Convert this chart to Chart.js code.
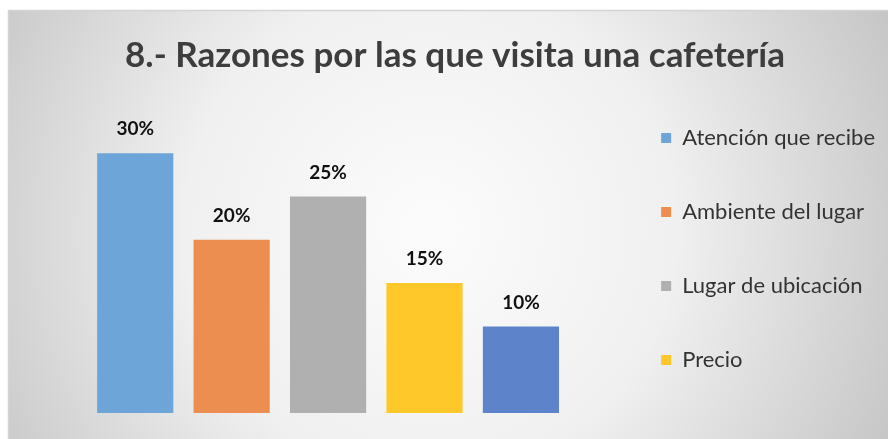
<!DOCTYPE html>
<html>
<head>
<meta charset="utf-8">
<script src="https://cdn.jsdelivr.net/npm/chart.js@4.4.0/dist/chart.umd.min.js"></script>
<style>
  html, body { margin: 0; padding: 0; background: #ffffff; }
  #wrap { width: 888px; height: 439px; }
</style>
</head>
<body>
<div id="wrap"><canvas id="grafico" width="888" height="439"></canvas></div>
<script>
// razones y porcentajes
const razones = ['Atención que recibe', 'Ambiente del lugar', 'Lugar de ubicación', 'Precio', 'Otros'];
const porcentajes = [30, 20, 25, 15, 10];
const colores = ['#6ea5d9', '#ec8e4f', '#b0b0b0', '#fec82a', '#5d83ca'];
const titulo = '8.- Razones por las que visita una cafetería';

// fondo con degradado y marco
const fondo = {
    id: 'fondo',
    beforeDraw(chart) {
        const ctx = chart.ctx;
        const w = chart.width, h = chart.height;
        ctx.save();
        ctx.fillStyle = '#ffffff';
        ctx.fillRect(0, 0, w, h);
        const g = ctx.createRadialGradient(430, 230, 20, 430, 230, 520);
        g.addColorStop(0, '#fbfbfb');
        g.addColorStop(0.45, '#f0f0f0');
        g.addColorStop(1, '#c4c4c4');
        ctx.fillStyle = g;
        ctx.fillRect(8, 10, w - 8, h - 10);
        ctx.strokeStyle = '#d4d4d4';
        ctx.lineWidth = 1.5;
        ctx.strokeRect(8.5, 10.5, w, h);
        ctx.restore();
    }
};

// etiquetas de porcentaje encima de cada barra
const etiquetas = {
    id: 'etiquetas',
    afterDatasetsDraw(chart) {
        const ctx = chart.ctx;
        const meta = chart.getDatasetMeta(0);
        ctx.save();
        ctx.font = 'bold 19px Lato';
        ctx.fillStyle = '#111111';
        ctx.textAlign = 'center';
        ctx.textBaseline = 'middle';
        meta.data.forEach((bar, i) => {
            ctx.fillText(porcentajes[i] + '%', bar.x, bar.y - 24);
        });
        ctx.restore();
    }
};

// ejes invisibles que solo reservan espacio
const ejeVacio = (extra) => Object.assign({
    display: true,
    ticks: { display: false },
    grid: { display: false },
    border: { display: false }
}, extra);

new Chart(document.getElementById('grafico'), {
    type: 'bar',
    data: {
        labels: razones,
        datasets: [{
            data: porcentajes,
            backgroundColor: colores,
            borderWidth: 0,
            categoryPercentage: 0.79,
            barPercentage: 1
        }]
    },
    options: {
        responsive: false,
        animation: false,
        layout: { padding: { left: 25, right: 3, top: 0, bottom: 0 } },
        scales: {
            x: ejeVacio({ afterFit: (s) => { s.height = 26; } }),
            y: ejeVacio({ position: 'left', min: 0, max: 38.8, afterFit: (s) => { s.width = 62; } }),
            yDer: ejeVacio({ position: 'right', afterFit: (s) => { s.width = 42; } })
        },
        plugins: {
            title: {
                display: true,
                text: titulo,
                color: '#3d3d3d',
                font: { family: 'Lato', size: 35, weight: 'bold', lineHeight: 1.2 },
                padding: { top: 35, bottom: 0 }
            },
            legend: {
                position: 'right',
                align: 'start',
                maxWidth: 400,
                // título vacío para bajar la leyenda bajo el título del gráfico
                title: {
                    display: true,
                    text: '',
                    font: { size: 12, lineHeight: '14px' },
                    padding: { top: 63, bottom: 0 }
                },
                labels: {
                    color: '#333333',
                    font: { family: 'Lato', size: 22, lineHeight: '24px' },
                    boxWidth: 10,
                    boxHeight: 10,
                    padding: 50,
                    filter: (item) => item.index < 4,
                    generateLabels: () => razones.map((r, i) => ({
                        text: [r],
                        fillStyle: colores[i],
                        strokeStyle: colores[i],
                        fontColor: '#333333',
                        lineWidth: 0,
                        index: i
                    }))
                }
            },
            tooltip: { enabled: false }
        }
    },
    plugins: [fondo, etiquetas]
});
</script>
</body>
</html>
